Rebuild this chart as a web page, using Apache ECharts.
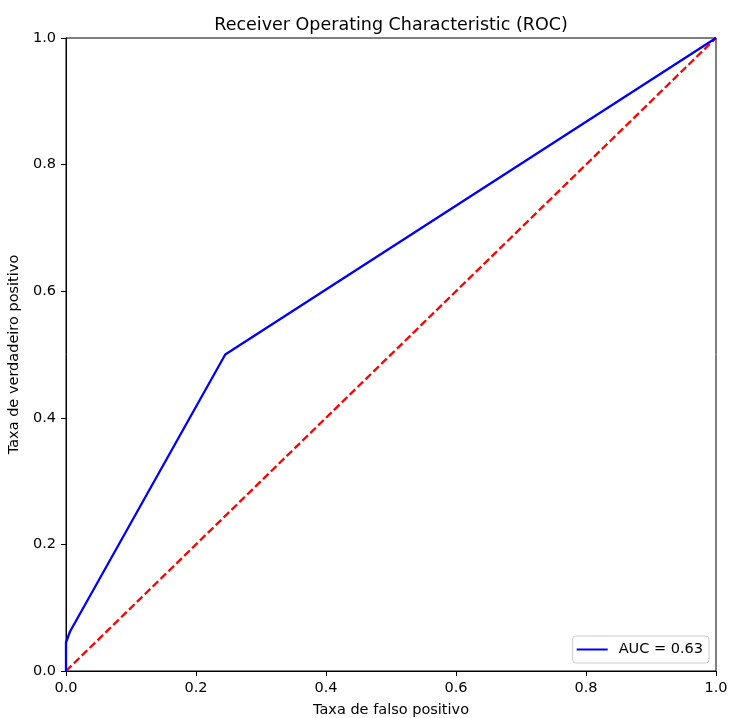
<!DOCTYPE html>
<html><head><meta charset="utf-8">
<script src="https://cdn.jsdelivr.net/npm/echarts@6/dist/echarts.min.js"></script>
<style>html,body{margin:0;padding:0;background:#fff}#c{width:730px;height:718px}</style>
</head><body><div id="c"></div>
<script>
const fpr = [0, 0, 0.006, 0.245, 1];
const tpr = [0, 0.045, 0.062, 0.5, 1];
const diagX = [0, 1];
const diagY = [0, 1];
const rocLabel = 'AUC = 0.63';
const ticks = [0, 0.2, 0.4, 0.6, 0.8, 1.0];

const chart = echarts.init(document.getElementById('c'));
const font = 'DejaVu Sans';
const axisCommon = {
  type: 'value', min: 0, max: 1, interval: 0.2,
  axisLine: {show: true, lineStyle: {color: '#000', width: 1}},
  axisTick: {show: true, inside: false, length: 5, lineStyle: {color: '#000'}},
  axisLabel: {color: '#000', fontFamily: font, fontSize: 14.5, margin: 10, formatter: v => v.toFixed(1)},
  splitLine: {show: false},
  nameLocation: 'middle',
  nameTextStyle: {color: '#000', fontFamily: font, fontSize: 14.5}
};
chart.setOption({
  animation: false,
  title: {text: 'Receiver Operating Characteristic (ROC)', left: 386, top: 11, textAlign: 'center',
    textStyle: {fontFamily: font, fontSize: 17.5, fontWeight: 'normal', color: '#000'}},
  grid: {left: 66, right: 14, top: 38, bottom: 47, show: true, borderColor: '#000', borderWidth: 1,
    backgroundColor: 'transparent', containLabel: false, outerBoundsMode: 'none'},
  xAxis: Object.assign({}, axisCommon, {name: 'Taxa de falso positivo', nameGap: 32,
    axisLabel: Object.assign({}, axisCommon.axisLabel, {margin: 10})}),
  yAxis: Object.assign({}, axisCommon, {name: 'Taxa de verdadeiro positivo', nameGap: 39}),
  legend: {
    data: [rocLabel], right: 21, bottom: 55, orient: 'vertical',
    backgroundColor: '#fff', borderColor: '#ccc', borderWidth: 1, borderRadius: 3,
    padding: [6, 6, 6, 4], itemWidth: 31, itemHeight: 2, itemGap: 5,
    icon: 'rect',
    textStyle: {fontFamily: font, fontSize: 14.5, color: '#000', padding: [0, 0, 0, 6]}
  },
  series: [
    {name: rocLabel, type: 'line', data: fpr.map((x, i) => [x, tpr[i]]), showSymbol: false, symbol: 'none',
      lineStyle: {color: '#0000ff', width: 2.3}, itemStyle: {color: '#0000ff'}, z: 3},
    {name: 'diag', type: 'line', data: diagX.map((x, i) => [x, diagY[i]]), showSymbol: false, symbol: 'none',
      lineStyle: {color: '#ff0000', width: 2.3, type: [7.7, 3.3]}, itemStyle: {color: '#ff0000'}, z: 2}
  ]
});
</script></body></html>
